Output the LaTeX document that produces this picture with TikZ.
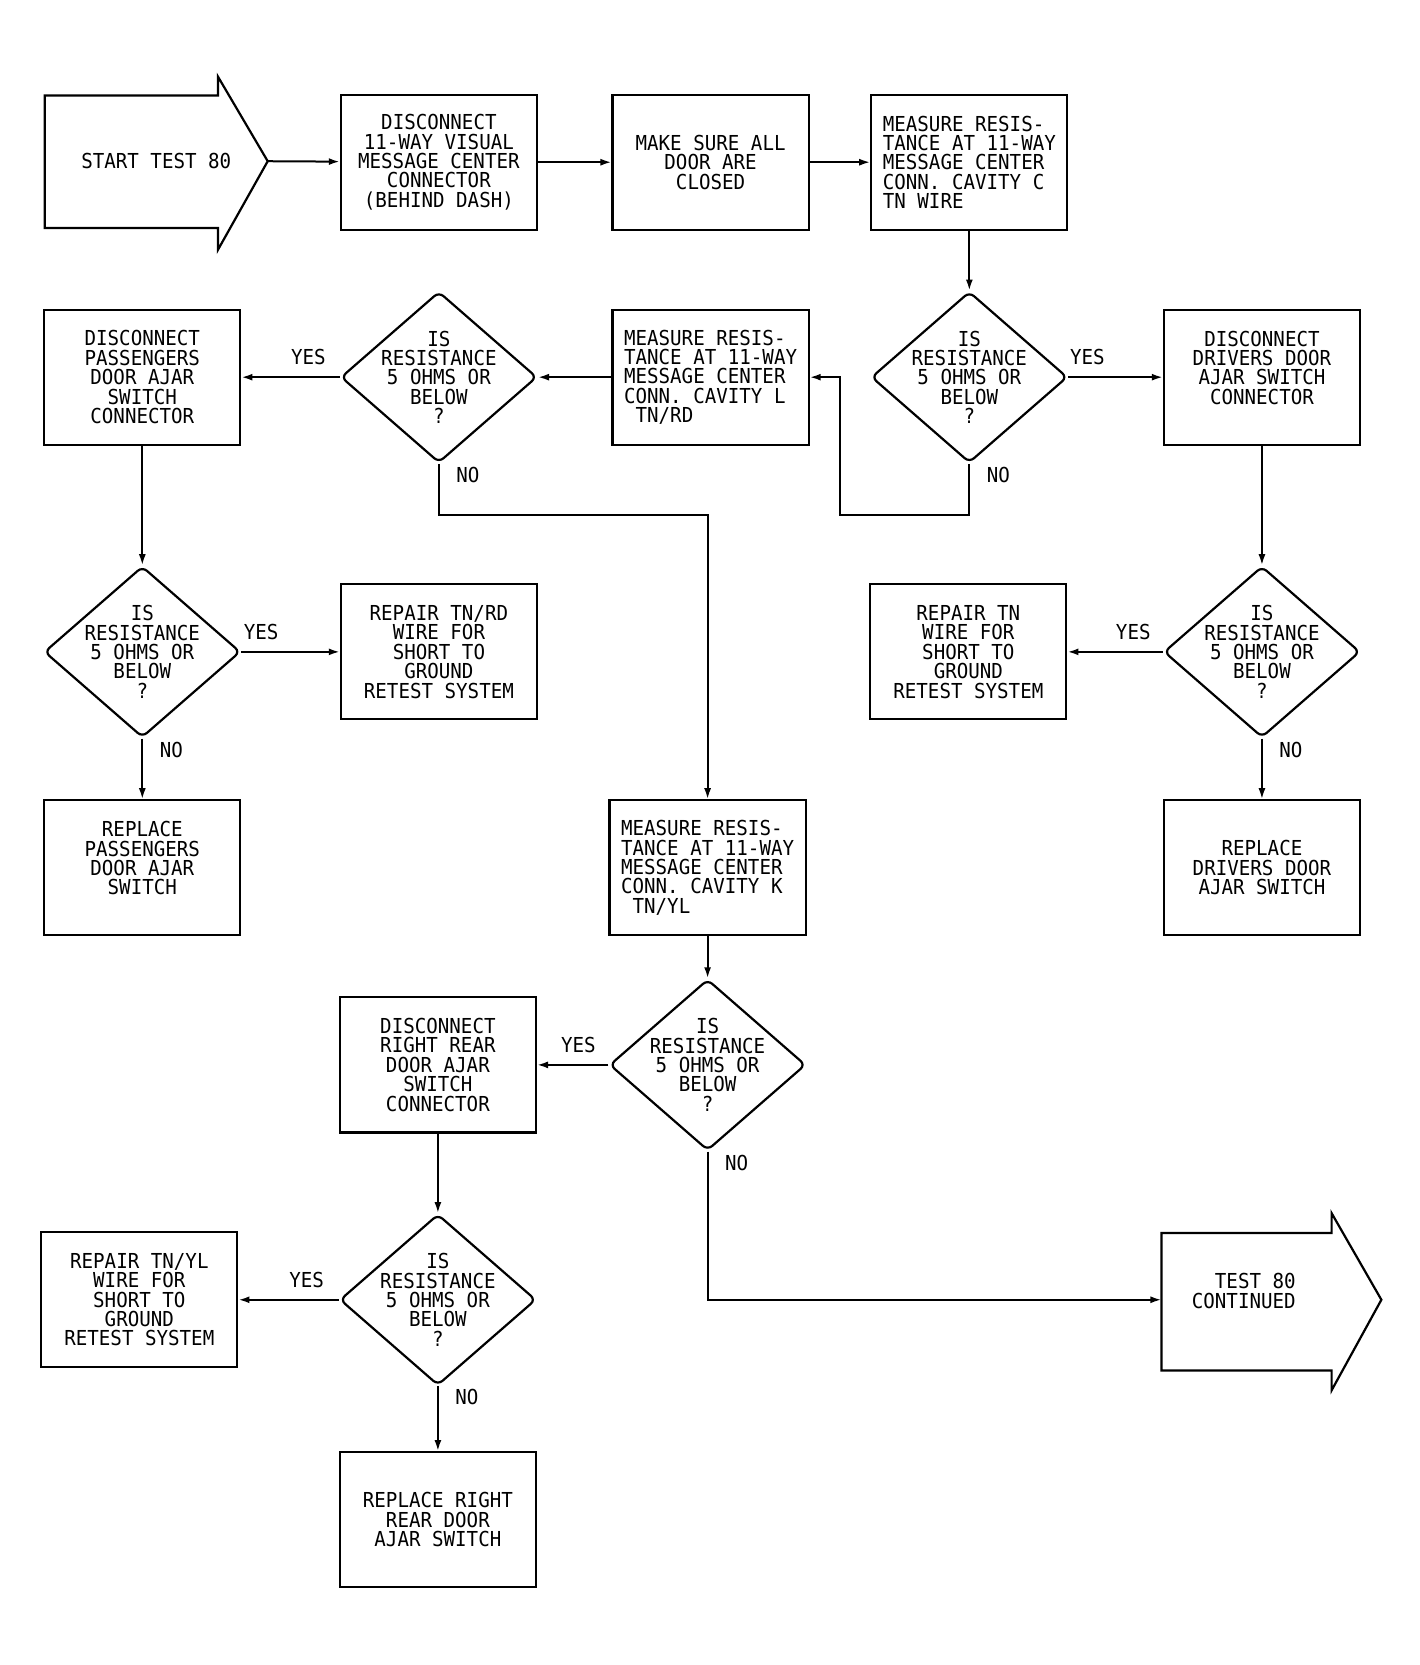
\documentclass[tikz,border=0pt]{standalone}
\usepackage{fontspec}
\newfontfamily\plotfont{DejaVu Sans Mono}[FakeStretch=0.93]
\usepackage{tikz}
\usetikzlibrary{arrows.meta}
\usetikzlibrary{shapes.geometric}

\newcommand{\askres}{IS\\RESISTANCE\\5 OHMS OR\\BELOW\\?}

\begin{document}
\begin{tikzpicture}[x=0.4975pt, y=-0.4975pt,
        font=\plotfont\fontsize{10.3}{9.7}\selectfont,
        outline/.style={draw, line width=1.1pt},
        stepbox/.style={outline, minimum width=98pt, minimum height=67.5pt, inner sep=0pt, align=center},
        measbox/.style={stepbox, align=left},
        decision/.style={outline, diamond, rounded corners=3pt, minimum width=98pt, minimum height=85.5pt, inner sep=0pt,
            label={[align=center]center:\askres}},
        flow/.style={line width=1pt, -{Latex[length=5.5pt,width=3.5pt]}},
        yeslbl/.style={yshift=10pt},
        nolbl/.style={xshift=14.5pt, yshift=-5.5pt}]
    \useasboundingbox (0,0) rectangle (1426,1673);

    % start arrow
    \draw[line width=1.1pt] (45,96) -- (219,96) -- (219,77) -- (269,162) -- (219,251) -- (219,229) -- (45,229) -- cycle;
    \node (start) at (157,162) {START TEST 80};
    \coordinate (startTip) at (269,162);

    % row 1
    \node[stepbox] (disc1) at (441,163) {DISCONNECT\\11-WAY VISUAL\\MESSAGE CENTER\\CONNECTOR\\(BEHIND DASH)};
    \node[stepbox] (sure) at (714,163) {MAKE SURE ALL\\DOOR ARE\\CLOSED};
    \node[measbox] (measC) at (974,163) {MEASURE RESIS-\\TANCE AT 11-WAY\\MESSAGE CENTER\\CONN. CAVITY C\\TN WIRE};

    % row 2
    \node[stepbox] (discPas) at (143,379) {DISCONNECT\\PASSENGERS\\DOOR AJAR\\SWITCH\\CONNECTOR};
    \node[decision] (askL) at (441,379) {};
    \node[measbox] (measL) at (714,379) {MEASURE RESIS-\\TANCE AT 11-WAY\\MESSAGE CENTER\\CONN. CAVITY L\\~TN/RD};
    \node[decision] (askC) at (974,379) {};
    \node[stepbox] (discDrv) at (1268,379) {DISCONNECT\\DRIVERS DOOR\\AJAR SWITCH\\CONNECTOR\\\mbox{}};

    % row 3
    \node[decision] (askPas) at (143,655) {};
    \node[stepbox] (fixRD) at (441,655) {REPAIR TN/RD\\WIRE FOR\\SHORT TO\\GROUND\\RETEST SYSTEM};
    \node[stepbox] (fixTN) at (973,655) {REPAIR TN\\WIRE FOR\\SHORT TO\\GROUND\\RETEST SYSTEM};
    \node[decision] (askDrv) at (1268,655) {};

    % row 4
    \node[stepbox] (newPas) at (143,872) {REPLACE\\PASSENGERS\\DOOR AJAR\\SWITCH\\\mbox{}};
    \node[measbox] (measK) at (711,872) {MEASURE RESIS-\\TANCE AT 11-WAY\\MESSAGE CENTER\\CONN. CAVITY K\\~TN/YL};
    \node[stepbox] (newDrv) at (1268,872) {REPLACE\\DRIVERS DOOR\\AJAR SWITCH};

    % row 5
    \node[stepbox] (discRR) at (440,1070) {DISCONNECT\\RIGHT REAR\\DOOR AJAR\\SWITCH\\CONNECTOR};
    \node[decision] (askK) at (711,1070) {};

    % end arrow
    \draw[line width=1.1pt] (1167,1239) -- (1338,1239) -- (1338,1219) -- (1388,1306) -- (1338,1397) -- (1338,1377) -- (1167,1377) -- cycle;
    \node[align=right, anchor=east] (cont) at (1309,1297) {TEST 80\\CONTINUED};
    \coordinate (contIn) at (1167,1306);

    % row 6
    \node[stepbox] (fixYL) at (140,1306) {REPAIR TN/YL\\WIRE FOR\\SHORT TO\\GROUND\\RETEST SYSTEM};
    \node[decision] (askRR) at (440,1306) {};
    \node[stepbox] (newRR) at (440,1527) {REPLACE RIGHT\\REAR DOOR\\AJAR SWITCH};

    % connectors
    \draw[flow] (startTip) -- (disc1);
    \draw[flow] (disc1) -- (sure);
    \draw[flow] (sure) -- (measC);
    \draw[flow] (measC) -- (askC);
    \draw[flow] (askC) -- node[yeslbl, pos=0.2] {YES} (discDrv);
    \draw[flow] (askC.south) -- node[nolbl, at start] {NO} ++(0,51) -| ([xshift=15pt]measL.east) -- (measL.east);
    \draw[flow] (measL) -- (askL);
    \draw[flow] (askL) -- node[yeslbl, pos=0.32] {YES} (discPas);
    \draw[flow] (askL.south) -- node[nolbl, at start] {NO} ++(0,51) -| (measK);
    \draw[flow] (discPas) -- (askPas);
    \draw[flow] (askPas) -- node[yeslbl, pos=0.2] {YES} (fixRD);
    \draw[flow] (askPas) -- node[nolbl, at start] {NO} (newPas);
    \draw[flow] (discDrv) -- (askDrv);
    \draw[flow] (askDrv) -- node[yeslbl, pos=0.31] {YES} (fixTN);
    \draw[flow] (askDrv) -- node[nolbl, at start] {NO} (newDrv);
    \draw[flow] (measK) -- (askK);
    \draw[flow] (askK) -- node[yeslbl, pos=0.42] {YES} (discRR);
    \draw[flow] (askK) |- node[nolbl, at start] {NO} (contIn);
    \draw[flow] (discRR) -- (askRR);
    \draw[flow] (askRR) -- node[yeslbl, pos=0.32] {YES} (fixYL);
    \draw[flow] (askRR) -- node[nolbl, at start] {NO} (newRR);
\end{tikzpicture}
\end{document}
